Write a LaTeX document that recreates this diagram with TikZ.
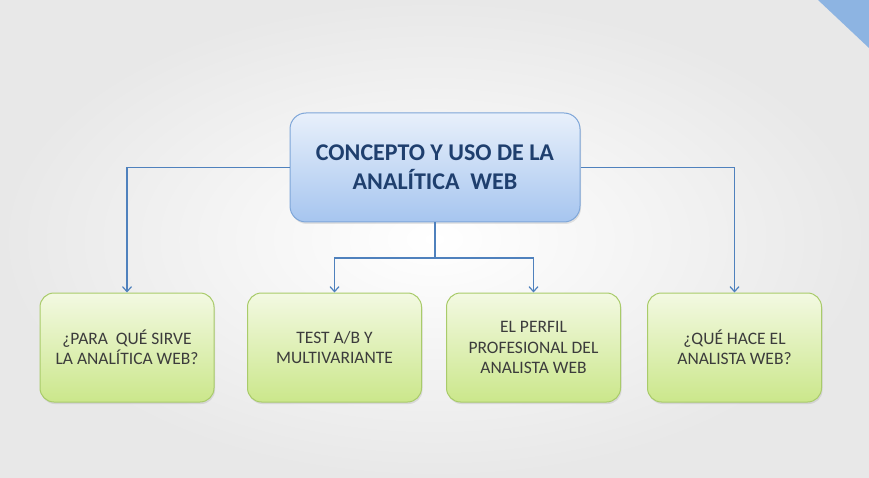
\documentclass[tikz,border=0pt]{standalone}
\usepackage{fontspec}
\setmainfont{Carlito}
\usetikzlibrary{arrows.meta,shadows}

\definecolor{linkblue}{HTML}{4F81BD}
\definecolor{titleblue}{HTML}{1F3F6E}
\definecolor{topline}{HTML}{7EA6D8}
\definecolor{toptop}{HTML}{E8F0FB}
\definecolor{topbottom}{HTML}{A6C5EF}
\definecolor{leafline}{HTML}{A9CB6A}
\definecolor{leaftop}{HTML}{F3F9E2}
\definecolor{leafbottom}{HTML}{CBE78B}
\definecolor{leaftext}{HTML}{3C3C3C}
\definecolor{cornerblue}{HTML}{8DB4E2}

\tikzset{
  topbox/.style={draw=topline, line width=1pt, rounded corners=16pt,
    top color=toptop, bottom color=topbottom,
    minimum width=290pt, minimum height=109pt, align=center,
    text=titleblue, font=\bfseries\fontsize{24}{29}\selectfont,
    drop shadow={opacity=0.2, shadow xshift=1pt, shadow yshift=-2pt}},
  leafbox/.style={draw=leafline, line width=1pt, rounded corners=14pt,
    top color=leaftop, bottom color=leafbottom,
    minimum width=174pt, minimum height=109pt, align=center,
    text=leaftext, font=\fontsize{17.5}{20.5}\selectfont,
    drop shadow={opacity=0.2, shadow xshift=1pt, shadow yshift=-2pt}},
  link/.style={draw=linkblue, line width=1.2pt, -{Straight Barb[length=5pt,width=9pt]}}
}

\begin{document}
\begin{tikzpicture}[x=1pt,y=-1pt]

\useasboundingbox (0,0) rectangle (869,478);
\shade[inner color=white, outer color=black!9] (0,0) rectangle (869,478);
\fill[cornerblue] (818,0) -- (869,0) -- (869,48) -- cycle;

\node[topbox] (concepto) at (435,167.5) {CONCEPTO Y USO DE LA\\ANALÍTICA\ \ WEB};

\node[leafbox] (sirve) at (127,347.5) {¿PARA\ \ QUÉ SIRVE\\LA ANALÍTICA WEB?};
\node[leafbox] (test) at (334.5,347.5) {TEST A/B Y\\MULTIVARIANTE};
\node[leafbox] (perfil) at (533.5,347.5) {EL PERFIL\\PROFESIONAL DEL\\ANALISTA WEB};
\node[leafbox] (hace) at (734.5,347.5) {¿QUÉ HACE EL\\ANALISTA WEB?};

\coordinate (split) at (435,258);

\draw[link] (concepto.west) -| (sirve.north);
\draw[link] (concepto.east) -| (hace.north);
\draw[draw=linkblue, line width=1.2pt] (concepto.south) -- (split);
\draw[link] (split) -| (test.north);
\draw[link] (split) -| (perfil.north);

\end{tikzpicture}
\end{document}
